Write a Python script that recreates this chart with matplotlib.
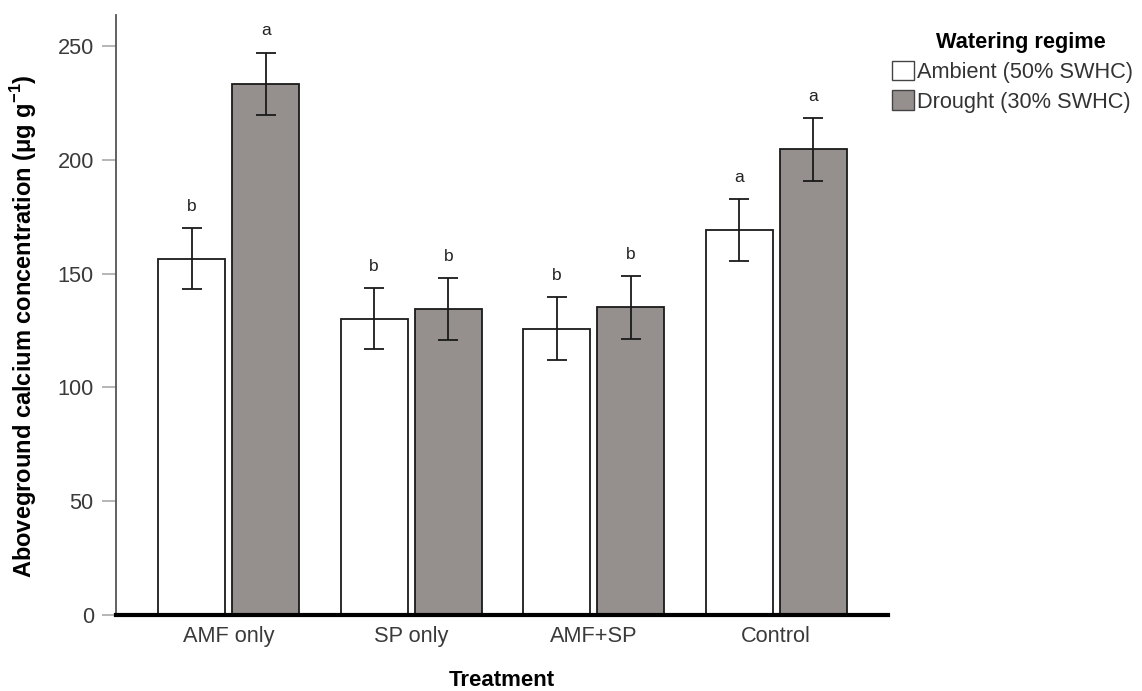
import numpy as np
import matplotlib.pyplot as plt

plt.rcParams['font.family'] = ['Liberation Sans', 'DejaVu Sans']

# Datos
tratamientos = ['AMF only', 'SP only', 'AMF+SP', 'Control']
ambiente = [156.5, 130.2, 125.8, 169.2]
ambiente_err = [13.4, 13.5, 13.8, 13.7]
sequia = [233.3, 134.4, 135.2, 204.6]
sequia_err = [13.8, 13.5, 13.8, 13.8]
letras_amb = ['b', 'b', 'b', 'a']
letras_seq = ['a', 'b', 'b', 'a']

x = np.arange(len(tratamientos))
ancho = 0.367
desp = 0.203
gris = '#958f8d'

fig = plt.figure(figsize=(11.42, 6.91), dpi=100)
ax = fig.add_axes([116/1142, 1 - 615/691, (888-116)/1142, (615-15)/691])

ax.bar(x - desp, ambiente, ancho, color='white', edgecolor='#1a1a1a', linewidth=1.3)
ax.bar(x + desp, sequia, ancho, color=gris, edgecolor='#1a1a1a', linewidth=1.3)
ax.errorbar(x - desp, ambiente, yerr=ambiente_err, fmt='none', ecolor='#1a1a1a',
            elinewidth=1.3, capsize=7.2, capthick=1.3)
ax.errorbar(x + desp, sequia, yerr=sequia_err, fmt='none', ecolor='#1a1a1a',
            elinewidth=1.3, capsize=7.2, capthick=1.3)

# Letras de significancia
for i in range(len(x)):
    ax.text(x[i] - desp, ambiente[i] + ambiente_err[i] + 7.5, letras_amb[i],
            ha='center', va='baseline', fontsize=12.5, color='#222222')
    ax.text(x[i] + desp, sequia[i] + sequia_err[i] + 7.5, letras_seq[i],
            ha='center', va='baseline', fontsize=12.5, color='#222222')

ax.set_xlim(-0.617, 3.612)
ax.set_ylim(0, 263.6)
ax.set_yticks([0, 50, 100, 150, 200, 250])
ax.set_xticks(x)
ax.set_xticklabels(tratamientos)

for s in ['top', 'right']:
    ax.spines[s].set_visible(False)
ax.spines['left'].set_color('#555555')
ax.spines['left'].set_linewidth(1.3)
ax.spines['bottom'].set_color('black')
ax.spines['bottom'].set_linewidth(3)
ax.tick_params(axis='y', length=10, width=1.3, color='#b0b0b0', labelsize=15.7,
               labelcolor='#3a3a3a', pad=6)
ax.tick_params(axis='x', length=0, labelsize=15.7, labelcolor='#3a3a3a', pad=8)

fig.text(24/1142, 1 - 326/691, 'Aboveground calcium concentration (μg g$^{\\mathregular{-1}}$)',
         rotation=90, ha='center', va='center', fontsize=17, fontweight='bold')
fig.text(502/1142, 1 - 680/691, 'Treatment', ha='center', va='center',
         fontsize=16, fontweight='bold')

# Leyenda
h1 = plt.Rectangle((0, 0), 1, 1, facecolor='white', edgecolor='#444444', linewidth=1)
h2 = plt.Rectangle((0, 0), 1, 1, facecolor=gris, edgecolor='#444444', linewidth=1)
leg = fig.legend([h1, h2], ['Ambient (50% SWHC)', 'Drought (30% SWHC)'],
                 title='Watering regime', loc='upper left',
                 bbox_to_anchor=(892/1142, 1 - 32/691), frameon=False,
                 fontsize=15.7, title_fontproperties={'weight': 'bold', 'size': 15.7},
                 handlelength=1.0, handleheight=1.0, handletextpad=0.15,
                 labelspacing=0.35, borderaxespad=0, borderpad=0)
leg.get_title().set_position((8, 0))
for t in leg.get_texts():
    t.set_color('#333333')

fig.savefig('out.png', dpi=100)
